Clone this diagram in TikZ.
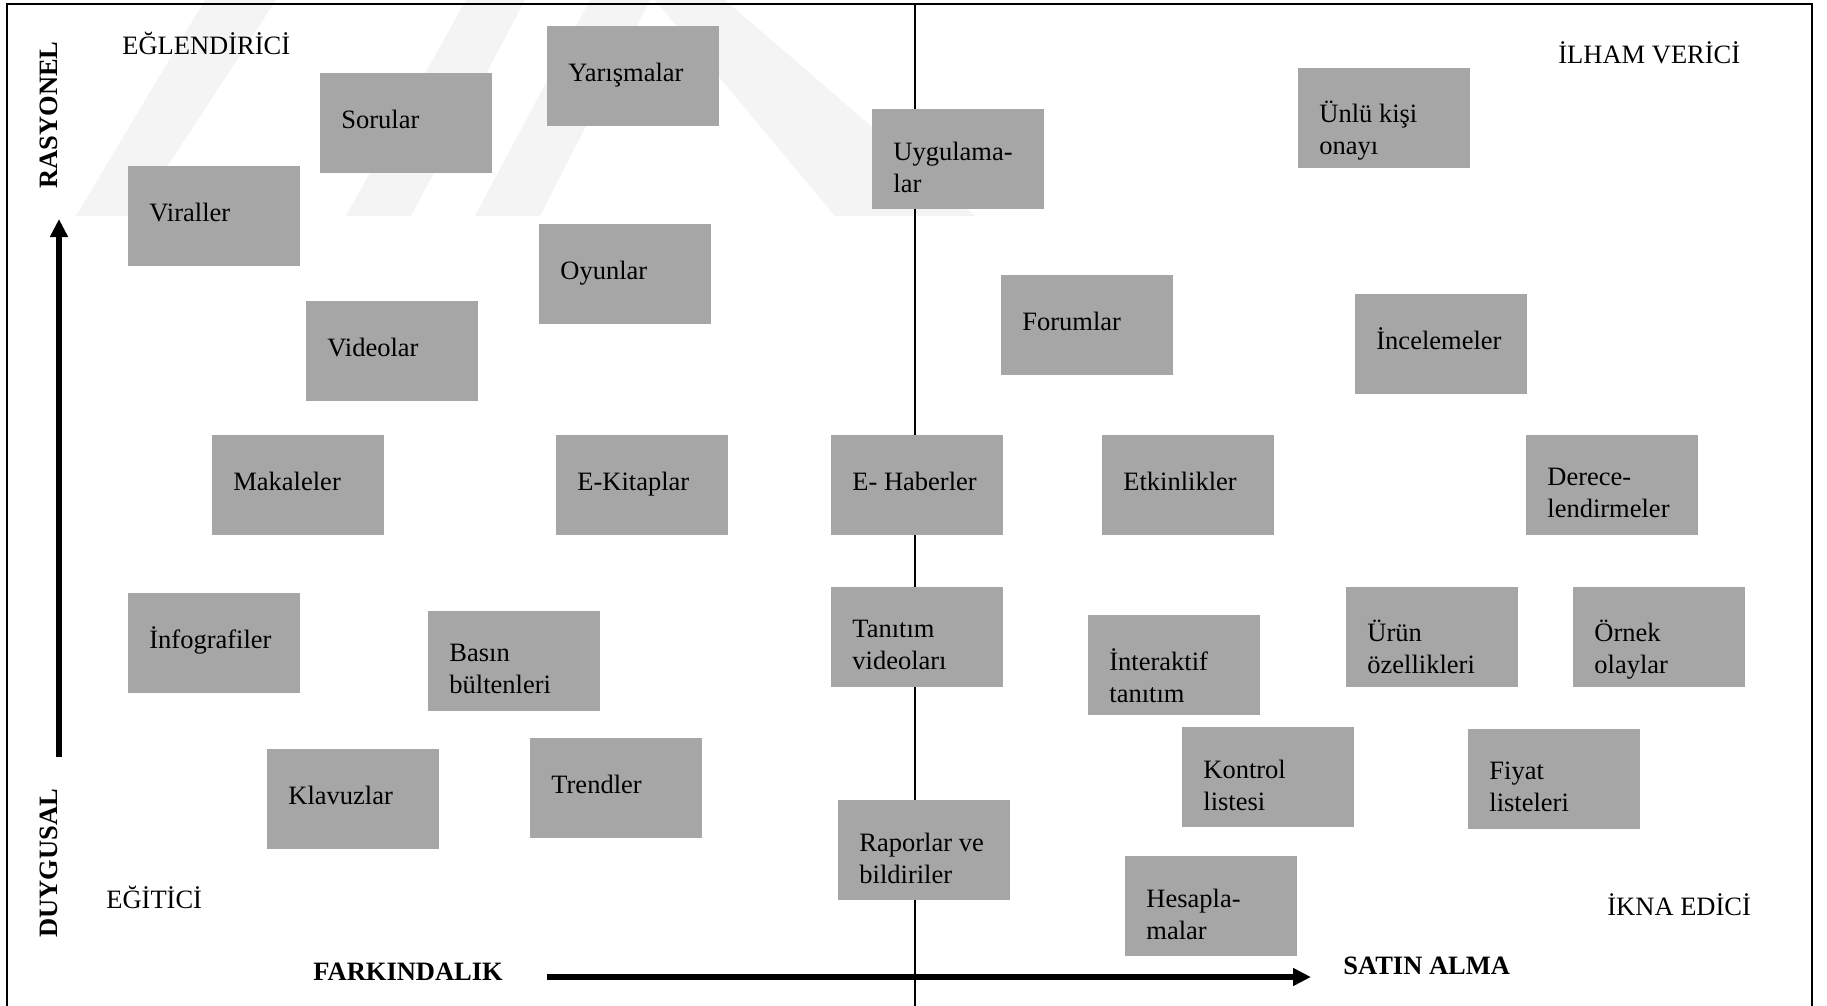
\documentclass[tikz,border=0pt]{standalone}
\usepackage{fontspec}
\setmainfont{Liberation Serif}
\usetikzlibrary{arrows.meta,calc}
\definecolor{boxgray}{RGB}{166,166,166}
\definecolor{wmgray}{RGB}{244,244,244}
\begin{document}
\begin{tikzpicture}[x=0.5pt,y=-0.5pt,
  box/.style={fill=boxgray, draw=none, minimum width=86pt, minimum height=50pt, inner sep=0pt, anchor=north west},
  boxtext/.style={font=\fontsize{13.25}{16}\selectfont, align=left, inner sep=0pt, anchor=north west, execute at begin node=\strut},
  lab/.style={font=\fontsize{13.25}{16}\selectfont, inner sep=0pt, anchor=base west},
  blab/.style={lab, font=\fontsize{13.25}{16}\selectfont\bfseries},
  frame/.style={line width=1.3pt, black},
  midline/.style={line width=1.2pt, black},
  axisarrow/.style={line width=3.1pt, black, -{Triangle[length=9pt,width=8.5pt]}},
  wm/.style={fill=wmgray, draw=none}
]
\useasboundingbox (0,0) rectangle (1827,1006);
\fill[white] (0,0) rectangle (1827,1006);
% faint watermark
\fill[wm] (76,216) -- (135,216) -- (276,0) -- (205,0) -- cycle;
\fill[wm] (346,216) -- (411,216) -- (525,0) -- (466,0) -- cycle;
\fill[wm] (475,216) -- (540,216) -- (650,0) -- (590,0) -- cycle;
\fill[wm] (655,0) -- (725,0) -- (975,216) -- (835,216) -- cycle;
% frame and middle line
\draw[frame] (7,1006) -- (7,4) -- (1812,4) -- (1812,1006);
\draw[midline] (915,4) -- (915,1006);
% boxes
\newcommand\mybox[4]{%
  \node[box] (#1) at (#2,#3) {};
  \node[boxtext] (#1t) at ($(#1.north west)+(21,33)$) {#4};
}
\mybox{sorular}{320}{73}{Sorular}
\mybox{yarisma}{547}{26}{Yarışmalar}
\mybox{viraller}{128}{166}{Viraller}
\mybox{oyunlar}{539}{224}{Oyunlar}
\mybox{uygulama}{872}{109}{Uygulama-\\lar}
\mybox{unlu}{1298}{68}{Ünlü kişi\\onayı}
\mybox{videolar}{306}{301}{Videolar}
\mybox{forumlar}{1001}{275}{Forumlar}
\mybox{incele}{1355}{294}{İncelemeler}
\mybox{makale}{212}{435}{Makaleler}
\mybox{ekitap}{556}{435}{E-Kitaplar}
\mybox{ehaber}{831}{435}{E- Haberler}
\mybox{etkinlik}{1102}{435}{Etkinlikler}
\mybox{derece}{1526}{435}{Derece-\\lendirmeler}
\mybox{infografi}{128}{593}{İnfografiler}
\mybox{basin}{428}{611}{Basın\\bültenleri}
\mybox{tanitim}{831}{587}{Tanıtım\\videoları}
\mybox{interaktif}{1088}{615}{İnteraktif\\tanıtım}
\mybox{urun}{1346}{587}{Ürün\\özellikleri}
\mybox{ornek}{1573}{587}{Örnek\\olaylar}
\mybox{klavuz}{267}{749}{Klavuzlar}
\mybox{trend}{530}{738}{Trendler}
\mybox{kontrol}{1182}{727}{Kontrol\\listesi}
\mybox{fiyat}{1468}{729}{Fiyat\\listeleri}
\mybox{rapor}{838}{800}{Raporlar ve\\bildiriler}
\mybox{hesap}{1125}{856}{Hesapla-\\malar}
% corner labels
\node[lab] (eglen) at (122,55) {EĞLENDİRİCİ};
\node[lab] (ilham) at (1558,64) {İLHAM VERİCİ};
\node[lab] (egitici) at (106,908) {EĞİTİCİ};
\node[lab] (ikna) at (1607,915) {İKNA EDİCİ};
% axis labels
\node[blab] (fark) at (313,980) {FARKINDALIK};
\node[blab] (satin) at (1343,974) {SATIN ALMA};
\node[blab, rotate=90] (rasyonel) at (57,189) {RASYONEL};
\node[blab, rotate=90] (duygusal) at (57,938) {DUYGUSAL};
% axis arrows
\coordinate (vstart) at (59,757);
\coordinate (vtip) at (59,219);
\coordinate (hstart) at (547,977);
\coordinate (htip) at (1311,977);
\draw[axisarrow] (vstart) -- (vtip);
\draw[axisarrow] (hstart) -- (htip);
\end{tikzpicture}
\end{document}
